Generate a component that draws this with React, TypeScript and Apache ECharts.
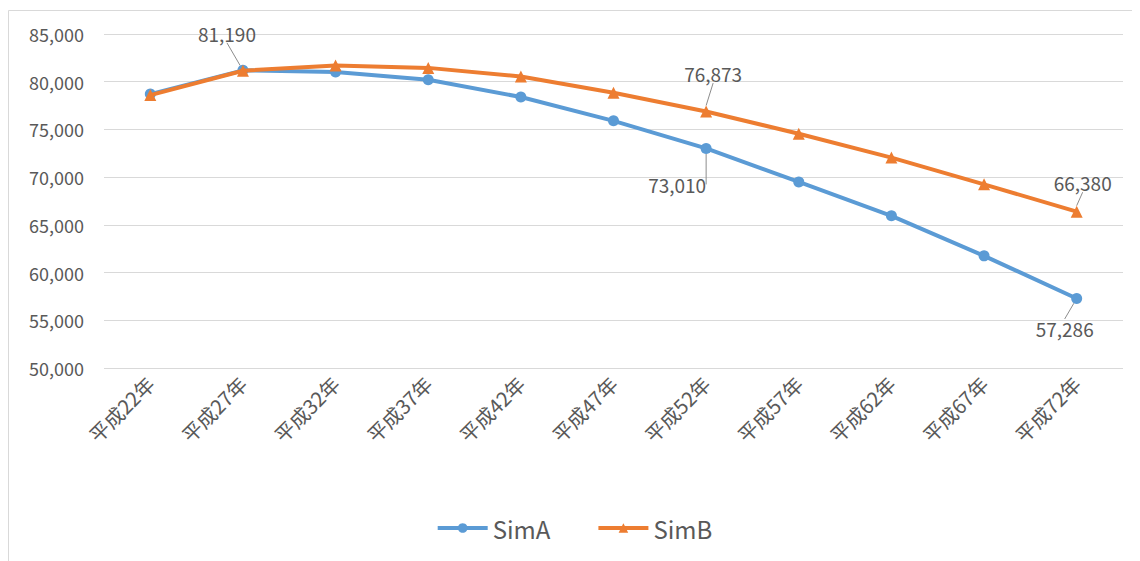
import React, { useEffect, useRef } from "react";
import * as echarts from "echarts";

const categories = ["平成22年", "平成27年", "平成32年", "平成37年", "平成42年", "平成47年", "平成52年", "平成57年", "平成62年", "平成67年", "平成72年"];
const simA = [78700, 81190, 81030, 80200, 78400, 75900, 73010, 69500, 65950, 61750, 57286];
const simB = [78600, 81150, 81700, 81450, 80550, 78850, 76873, 74550, 72050, 69250, 66380];
const yTicks = { min: 50000, max: 85000, interval: 5000 };

// label offsets (dx, dy) for the annotated points
const labelA: Record<number, [number, number]> = { 1: [-16, -37], 6: [-29, 36], 10: [-12, 30] };
const labelB: Record<number, [number, number]> = { 6: [7, -38], 10: [6, -29] };

const fmt = (v: number) => v.toLocaleString("en-US");

export default function App() {
  const ref = useRef<HTMLDivElement>(null);
  useEffect(() => {
    if (!ref.current) return;
    const chart = echarts.init(ref.current, null, { renderer: "svg" });
    const font = "'Noto Sans CJK JP', 'Noto Sans', sans-serif";
    const mkData = (vals: number[], labels: Record<number, [number, number]>) =>
      vals.map((v, i) =>
        labels[i]
          ? {
              value: v,
              label: {
                show: true,
                position: "inside",
                formatter: () => fmt(v),
                color: "#595959",
                fontSize: 19,
                fontFamily: font,
              },
            }
          : v
      );
    const layoutFor = (labels: Record<number, [number, number]>) => (p: any) => {
      const o = labels[p.dataIndex];
      return o ? { dx: o[0], dy: o[1] } : {};
    };
    chart.setOption({
      animation: false,
      backgroundColor: "#ffffff",
      graphic: [
        {
          type: "rect",
          shape: { x: 0.5, y: 2.5, width: 1140, height: 560 },
          style: { fill: "none", stroke: "#d9d9d9", lineWidth: 1 },
          silent: true,
        },
      ],
      grid: { left: 96, right: 17, top: 26, bottom: 193 },
      legend: {
        bottom: 16,
        left: "center",
        itemWidth: 50,
        itemHeight: 12,
        itemGap: 46,
        textStyle: { color: "#595959", fontSize: 24, fontFamily: font },
        lineStyle: { width: 4 },
        data: ["SimA", "SimB"],
      },
      xAxis: {
        type: "category",
        data: categories,
        boundaryGap: true,
        axisLine: { show: false },
        axisTick: { show: false },
        axisLabel: { rotate: 45, color: "#595959", fontSize: 20, fontFamily: font, margin: 12, interval: 0 },
      },
      yAxis: {
        type: "value",
        min: yTicks.min,
        max: yTicks.max,
        interval: yTicks.interval,
        axisLine: { show: false },
        axisTick: { show: false },
        axisLabel: { color: "#595959", fontSize: 18, fontFamily: font, formatter: (v: number) => fmt(v), margin: 20 },
        splitLine: { lineStyle: { color: "#d9d9d9", width: 1 } },
      },
      series: [
        {
          name: "SimA",
          type: "line",
          data: mkData(simA, labelA),
          symbol: "circle",
          symbolSize: 11,
          itemStyle: { color: "#5B9BD5" },
          lineStyle: { color: "#5B9BD5", width: 4 },
          labelLayout: layoutFor(labelA),
          labelLine: { show: true, lineStyle: { color: "#8c8c8c", width: 1 } },
          z: 2,
        },
        {
          name: "SimB",
          type: "line",
          data: mkData(simB, labelB),
          symbol: "triangle",
          symbolSize: 12,
          itemStyle: { color: "#ED7D31" },
          lineStyle: { color: "#ED7D31", width: 4 },
          labelLayout: layoutFor(labelB),
          labelLine: { show: true, lineStyle: { color: "#8c8c8c", width: 1 } },
          z: 3,
        },
      ],
    });
    return () => chart.dispose();
  }, []);
  return <div ref={ref} style={{ width: 1132, height: 553 }} />;
}
